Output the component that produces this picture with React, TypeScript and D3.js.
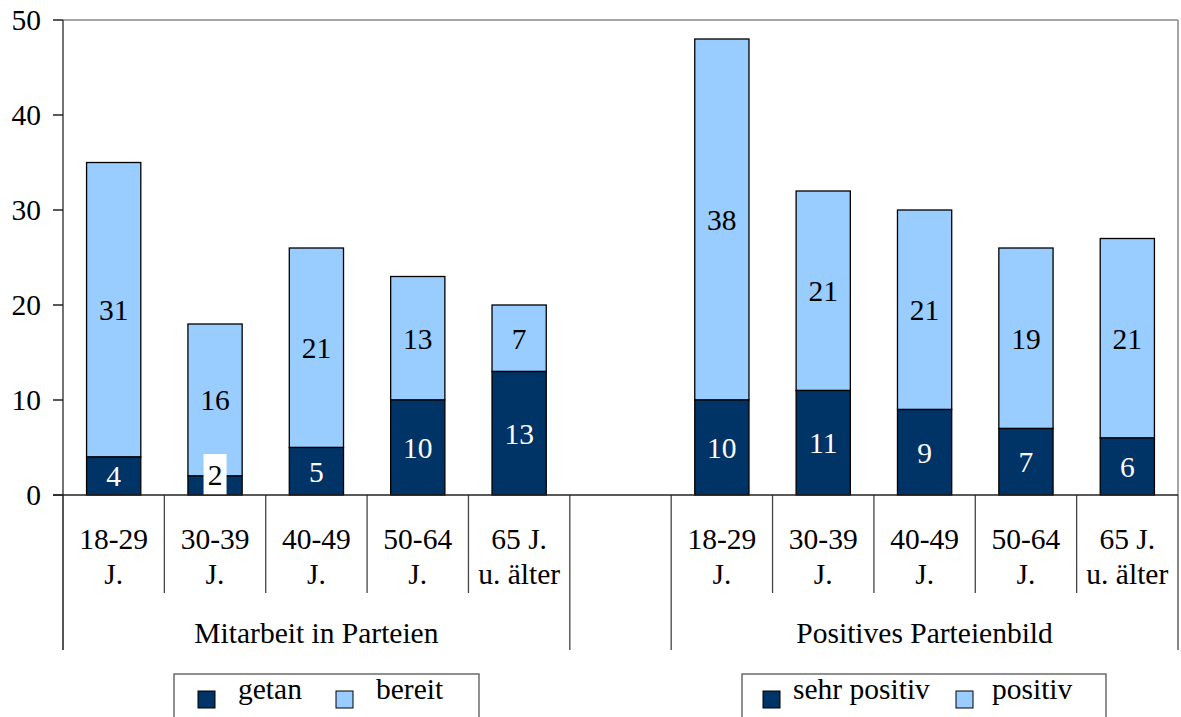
import React from "react";
import * as d3 from "d3";

const ageLabels: string[][] = [
  ["18-29", "J."],
  ["30-39", "J."],
  ["40-49", "J."],
  ["50-64", "J."],
  ["65 J.", "u. älter"],
];
const groupNames = ["Mitarbeit in Parteien", "Positives Parteienbild"];
const getan = [4, 2, 5, 10, 13];
const bereit = [31, 16, 21, 13, 7];
const sehrPositiv = [10, 11, 9, 7, 6];
const positiv = [38, 21, 21, 19, 21];
const yTicks = [0, 10, 20, 30, 40, 50];
const legend1 = ["getan", "bereit"];
const legend2 = ["sehr positiv", "positiv"];

const DARK = "#003366";
const LIGHT = "#99CCFF";
const FONT = "Liberation Serif, Tinos, Times New Roman, DejaVu Serif, serif";

export default function App() {
  const W = 1181, H = 717;
  const left = 63, right = 1178, top = 20, bottom = 495;
  const slots = [
    ...ageLabels.map((_, i) => `M${i}`),
    "gap",
    ...ageLabels.map((_, i) => `P${i}`),
  ];
  const x = d3.scaleBand<string>().domain(slots).range([left, right]).padding(0);
  const y = d3.scaleLinear().domain([0, 50]).range([bottom, top]);
  const bw = x.bandwidth() * 0.535;

  const groups = [
    { prefix: "M", low: getan, high: bereit },
    { prefix: "P", low: sehrPositiv, high: positiv },
  ];

  const marks: React.ReactNode[] = [];
  groups.forEach((g) => {
    g.low.forEach((lv, i) => {
      const key = `${g.prefix}${i}`;
      const cx = (x(key) as number) + x.bandwidth() / 2;
      const hv = g.high[i];
      const y0 = y(0), y1 = y(lv), y2 = y(lv + hv);
      marks.push(
        <rect key={key + "h"} x={cx - bw / 2} y={y2} width={bw} height={y1 - y2}
          fill={LIGHT} stroke="#000" strokeWidth={1.3} />
      );
      marks.push(
        <rect key={key + "l"} x={cx - bw / 2} y={y1} width={bw} height={y0 - y1}
          fill={DARK} stroke="#000" strokeWidth={1.3} />
      );
      marks.push(
        <text key={key + "ht"} x={cx} y={(y1 + y2) / 2} dy="0.35em" textAnchor="middle"
          fill="#000">{hv}</text>
      );
      const segH = y0 - y1;
      if (segH < 24) {
        const cy = y0 - 20;
        const tw = 23;
        marks.push(
          <rect key={key + "lb"} x={cx - tw / 2} y={y0 - 41} width={tw} height={41} fill="#fff" />
        );
        marks.push(
          <text key={key + "lt"} x={cx} y={cy} dy="0.35em" textAnchor="middle"
            fill="#000">{lv}</text>
        );
      } else {
        marks.push(
          <text key={key + "lt"} x={cx} y={(y0 + y1) / 2} dy="0.35em" textAnchor="middle"
            fill="#fff">{lv}</text>
        );
      }
    });
  });

  const seps: React.ReactNode[] = [];
  const boundaries = slots.map((s) => x(s) as number).concat([right]);
  boundaries.forEach((bx, i) => {
    const long = i === 0 || i === 5 || i === 6 || i === 11;
    seps.push(
      <line key={"sep" + i} x1={bx} x2={bx} y1={bottom} y2={long ? 650 : 593}
        stroke="#444" strokeWidth={1.3} />
    );
  });

  const catLabels: React.ReactNode[] = [];
  ["M", "P"].forEach((p) => {
    ageLabels.forEach((lines, i) => {
      const cx = (x(`${p}${i}`) as number) + x.bandwidth() / 2;
      lines.forEach((ln, j) => {
        catLabels.push(
          <text key={`${p}${i}-${j}`} x={cx} y={549 + j * 35} textAnchor="middle"
            fill="#000">{ln}</text>
        );
      });
    });
  });

  const groupLabels = groupNames.map((name, gi) => {
    const x0 = x(gi === 0 ? "M0" : "P0") as number;
    const x1 = (x(gi === 0 ? "M4" : "P4") as number) + x.bandwidth();
    return (
      <text key={"g" + gi} x={(x0 + x1) / 2} y={643} textAnchor="middle"
        fill="#000">{name}</text>
    );
  });

  const legendBox = (bx: number, bwid: number, items: string[], pos: number[][]) => (
    <g>
      <rect x={bx} y={674} width={bwid} height={80} fill="#fff" stroke="#555" strokeWidth={1.3} />
      {items.map((it, i) => (
        <g key={it}>
          <rect x={pos[i][0]} y={691} width={17} height={17} fill={i === 0 ? DARK : LIGHT}
            stroke="#000" strokeWidth={1} />
          <text x={pos[i][1]} y={699} fill="#000">{it}</text>
        </g>
      ))}
    </g>
  );

  return (
    <svg width={W} height={H}
      style={{ position: "absolute", left: 0, top: 0, background: "#fff", fontFamily: FONT, fontSize: 29.5 }}>
      <rect x={0} y={0} width={W} height={H} fill="#fff" />
      <line x1={left} x2={right} y1={top} y2={top} stroke="#888" strokeWidth={1.5} />
      <line x1={right} x2={right} y1={top} y2={bottom} stroke="#888" strokeWidth={1.5} />
      {marks}
      {seps}
      <line x1={left} x2={left} y1={top} y2={650} stroke="#444" strokeWidth={1.5} />
      <line x1={left - 10} x2={right} y1={bottom} y2={bottom} stroke="#222" strokeWidth={1.5} />
      {yTicks.map((t) => (
        <g key={"t" + t}>
          <line x1={left - 10} x2={left} y1={y(t)} y2={y(t)} stroke="#222" strokeWidth={1.5} />
          <text x={41} y={y(t)} dy="0.35em" textAnchor="end" fill="#000">{t}</text>
        </g>
      ))}
      {catLabels}
      {groupLabels}
      {legendBox(174, 305, legend1, [[198, 238], [336, 376]])}
      {legendBox(742, 364, legend2, [[763, 793], [956, 992]])}
    </svg>
  );
}
